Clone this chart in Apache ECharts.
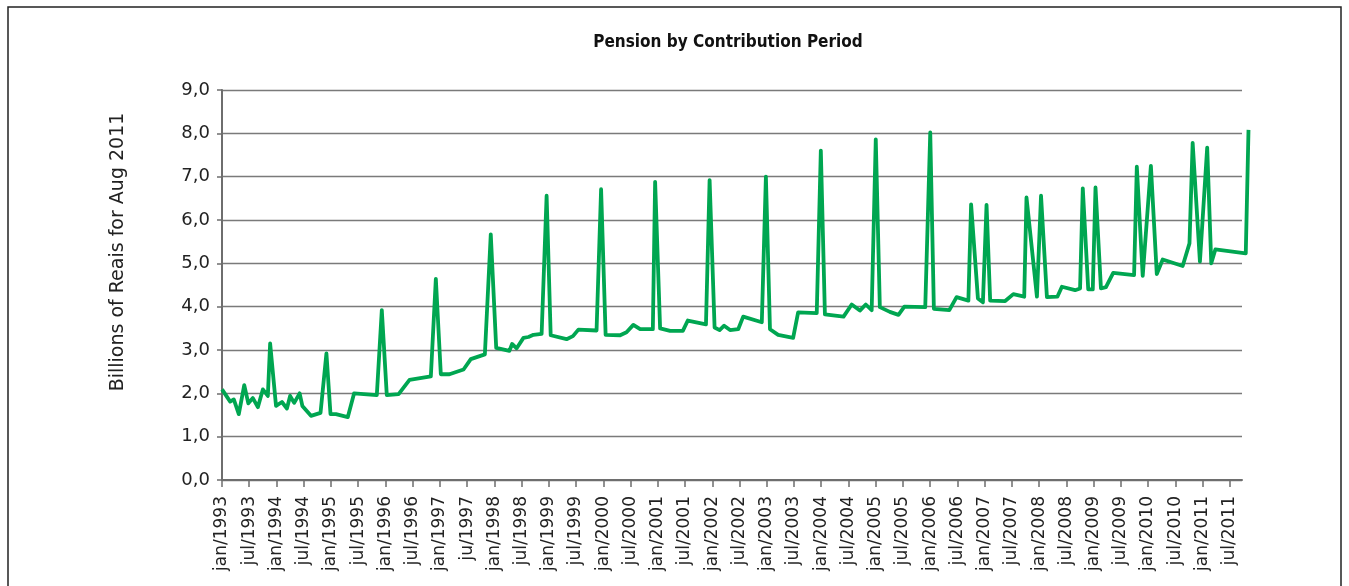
<!DOCTYPE html>
<html>
<head>
<meta charset="utf-8">
<title>Pension by Contribution Period</title>
<script src="https://cdn.jsdelivr.net/npm/echarts@6/dist/echarts.min.js"></script>
<style>
  html, body { margin: 0; padding: 0; background: #fff; }
  #chart { width: 1349px; height: 586px; }
</style>
</head>
<body>
<div id="chart"></div>
<script>
// months since jan/1993 and value in billions of reais
const monthPos = [
  0, 1.8, 2.6, 3.7, 4.9, 5.8, 6.8, 7.9, 9.0, 10.1, 10.6, 11.9, 13.2, 14.3, 15.0, 15.9, 17.1, 17.7,
  19.6, 21.7, 23.0, 23.9, 25.1, 27.7, 29.1, 34.1, 35.2, 36.3, 38.9, 41.3, 46.0, 47.1, 48.2, 50.1,
  53.2, 54.8, 57.9, 59.2, 60.4, 63.3, 63.9, 64.9, 66.4, 67.5, 68.6, 70.4, 71.5, 72.4, 75.9, 77.3,
  78.5, 82.5, 83.5, 84.5, 87.7, 89.1, 90.6, 92.1, 94.9, 95.4, 96.5, 98.7, 101.5, 102.6, 106.6, 107.4,
  108.5, 109.6, 110.6, 111.9, 113.7, 114.8, 118.9, 119.8, 120.7, 122.5, 125.8, 126.9, 131.0, 131.9,
  132.8, 136.9, 138.7, 140.5, 141.8, 143.1, 144.0, 144.9, 147.1, 149.0, 150.3, 154.9, 156.0, 156.8,
  160.2, 161.8, 164.4, 165.0, 166.5, 167.6, 168.4, 169.2, 172.5, 174.3, 176.7, 177.2, 179.5, 180.4,
  181.7, 184.0, 185.0, 187.9, 189.0, 189.6, 190.8, 191.8, 192.4, 193.6, 194.7, 196.3, 200.9, 201.5,
  202.8, 204.6, 205.9, 207.2, 211.6, 213.1, 213.8, 215.4, 217.0, 217.9, 218.8, 225.5, 226.1
];
const values = [
  2.09, 1.81, 1.86, 1.52, 2.19, 1.77, 1.89, 1.68, 2.09, 1.94, 3.15, 1.71, 1.80, 1.65, 1.94, 1.78, 2.00, 1.71,
  1.48, 1.55, 2.92, 1.52, 1.52, 1.45, 2.00, 1.96, 3.92, 1.96, 1.98, 2.31, 2.39, 4.64, 2.44, 2.44,
  2.55, 2.79, 2.90, 5.67, 3.05, 2.98, 3.14, 3.04, 3.28, 3.30, 3.35, 3.37, 6.56, 3.34, 3.25, 3.32,
  3.47, 3.45, 6.71, 3.35, 3.34, 3.41, 3.58, 3.48, 3.48, 6.88, 3.50, 3.44, 3.44, 3.68, 3.59, 6.92,
  3.52, 3.46, 3.56, 3.46, 3.48, 3.77, 3.64, 7.00, 3.48, 3.35, 3.28, 3.87, 3.85, 7.60,
  3.82, 3.77, 4.05, 3.91, 4.05, 3.92, 7.86, 3.99, 3.88, 3.81, 4.00, 3.99, 8.02, 3.95,
  3.92, 4.22, 4.14, 6.36, 4.19, 4.10, 6.35, 4.14, 4.13, 4.29, 4.23, 6.52, 4.23, 6.56,
  4.22, 4.23, 4.46, 4.38, 4.42, 6.73, 4.40, 4.40, 6.75, 4.42, 4.45, 4.78, 4.73, 7.23,
  4.71, 7.25, 4.75, 5.09, 4.94, 5.46, 7.78, 5.04, 7.67, 5.00, 5.32, 5.23, 8.08
];
const xTickLabels = [
  'jan/1993', 'jul/1993', 'jan/1994', 'jul/1994', 'jan/1995', 'jul/1995', 'jan/1996', 'jul/1996',
  'jan/1997', 'ju/1997', 'jan/1998', 'jul/1998', 'jan/1999', 'jul/1999', 'jan/2000', 'jul/2000',
  'jan/2001', 'jul/2001', 'jan/2002', 'jul/2002', 'jan/2003', 'jul/2003', 'jan/2004', 'jul/2004',
  'jan/2005', 'jul/2005', 'jan/2006', 'jul/2006', 'jan/2007', 'jul/2007', 'jan/2008', 'jul/2008',
  'jan/2009', 'jul/2009', 'jan/2010', 'jul/2010', 'jan/2011', 'jul/2011'
];
const yTicks = [0, 1, 2, 3, 4, 5, 6, 7, 8, 9];

const xTickPos = xTickLabels.map((l, i) => i * 6);
const seriesData = monthPos.map((m, i) => [m, values[i]]);

const labelFont = "'DejaVu Sans', sans-serif";
const axisGray = '#6e6e6e';
const lineGreen = '#00a651';

// the plotted line runs a little past the end of the axis, so it sits on its own
// grid that is slightly wider, with the same month scale
const chart = echarts.init(document.getElementById('chart'));
chart.setOption({
  animation: false,
  backgroundColor: '#fff',
  grid: [
    { left: 222, right: 107, top: 90, bottom: 106, outerBoundsMode: 'none' },
    { left: 222, right: 100.5, top: 90, bottom: 106, outerBoundsMode: 'none' }
  ],
  graphic: [
    // frame round the figure
    { type: 'rect', shape: { x: 8, y: 7, width: 1333, height: 640 },
      style: { fill: 'none', stroke: '#222', lineWidth: 1.5 }, silent: true },
    { type: 'text', x: 728, y: 43,
      style: { text: 'Pension by Contribution Period', align: 'center', verticalAlign: 'middle',
        font: "bold 17px 'DejaVu Sans Condensed', 'Liberation Sans Narrow', sans-serif", fill: '#111' } },
    { type: 'text', x: 118, y: 252, rotation: Math.PI / 2,
      style: { text: 'Billions of Reais for Aug 2011', align: 'center', verticalAlign: 'middle',
        font: '19px ' + labelFont, fill: '#222' } }
  ],
  xAxis: [{
    type: 'value',
    gridIndex: 0,
    min: 0,
    max: 224.7,
    splitLine: { show: false },
    axisLine: { show: true, lineStyle: { color: axisGray, width: 2 } },
    axisTick: { show: true, length: 7, customValues: xTickPos, lineStyle: { color: axisGray, width: 1.5 } },
    axisLabel: {
      customValues: xTickPos,
      rotate: 90,
      margin: 16,
      fontFamily: labelFont,
      fontSize: 17,
      color: '#222',
      formatter: v => xTickLabels[xTickPos.indexOf(v)] || ''
    }
  }, {
    type: 'value',
    gridIndex: 1,
    min: 0,
    max: 226.1,
    show: false
  }],
  yAxis: [{
    type: 'value',
    gridIndex: 0,
    min: 0,
    max: 9,
    interval: 1,
    axisLine: { show: true, lineStyle: { color: axisGray, width: 2 } },
    axisTick: { show: true, length: 5, lineStyle: { color: axisGray, width: 1.5 } },
    splitLine: { show: true, lineStyle: { color: '#7a7a7a', width: 1.3 } },
    axisLabel: {
      margin: 12,
      fontFamily: labelFont,
      fontSize: 18,
      color: '#222',
      formatter: v => yTicks.includes(v) ? v.toFixed(1).replace('.', ',') : ''
    }
  }, {
    type: 'value',
    gridIndex: 1,
    min: 0,
    max: 9,
    show: false
  }],
  series: [{
    type: 'line',
    xAxisIndex: 1,
    yAxisIndex: 1,
    data: seriesData,
    showSymbol: false,
    clip: false,
    lineStyle: { color: lineGreen, width: 3.8, join: 'round' },
    itemStyle: { color: lineGreen }
  }]
});
</script>
</body>
</html>
